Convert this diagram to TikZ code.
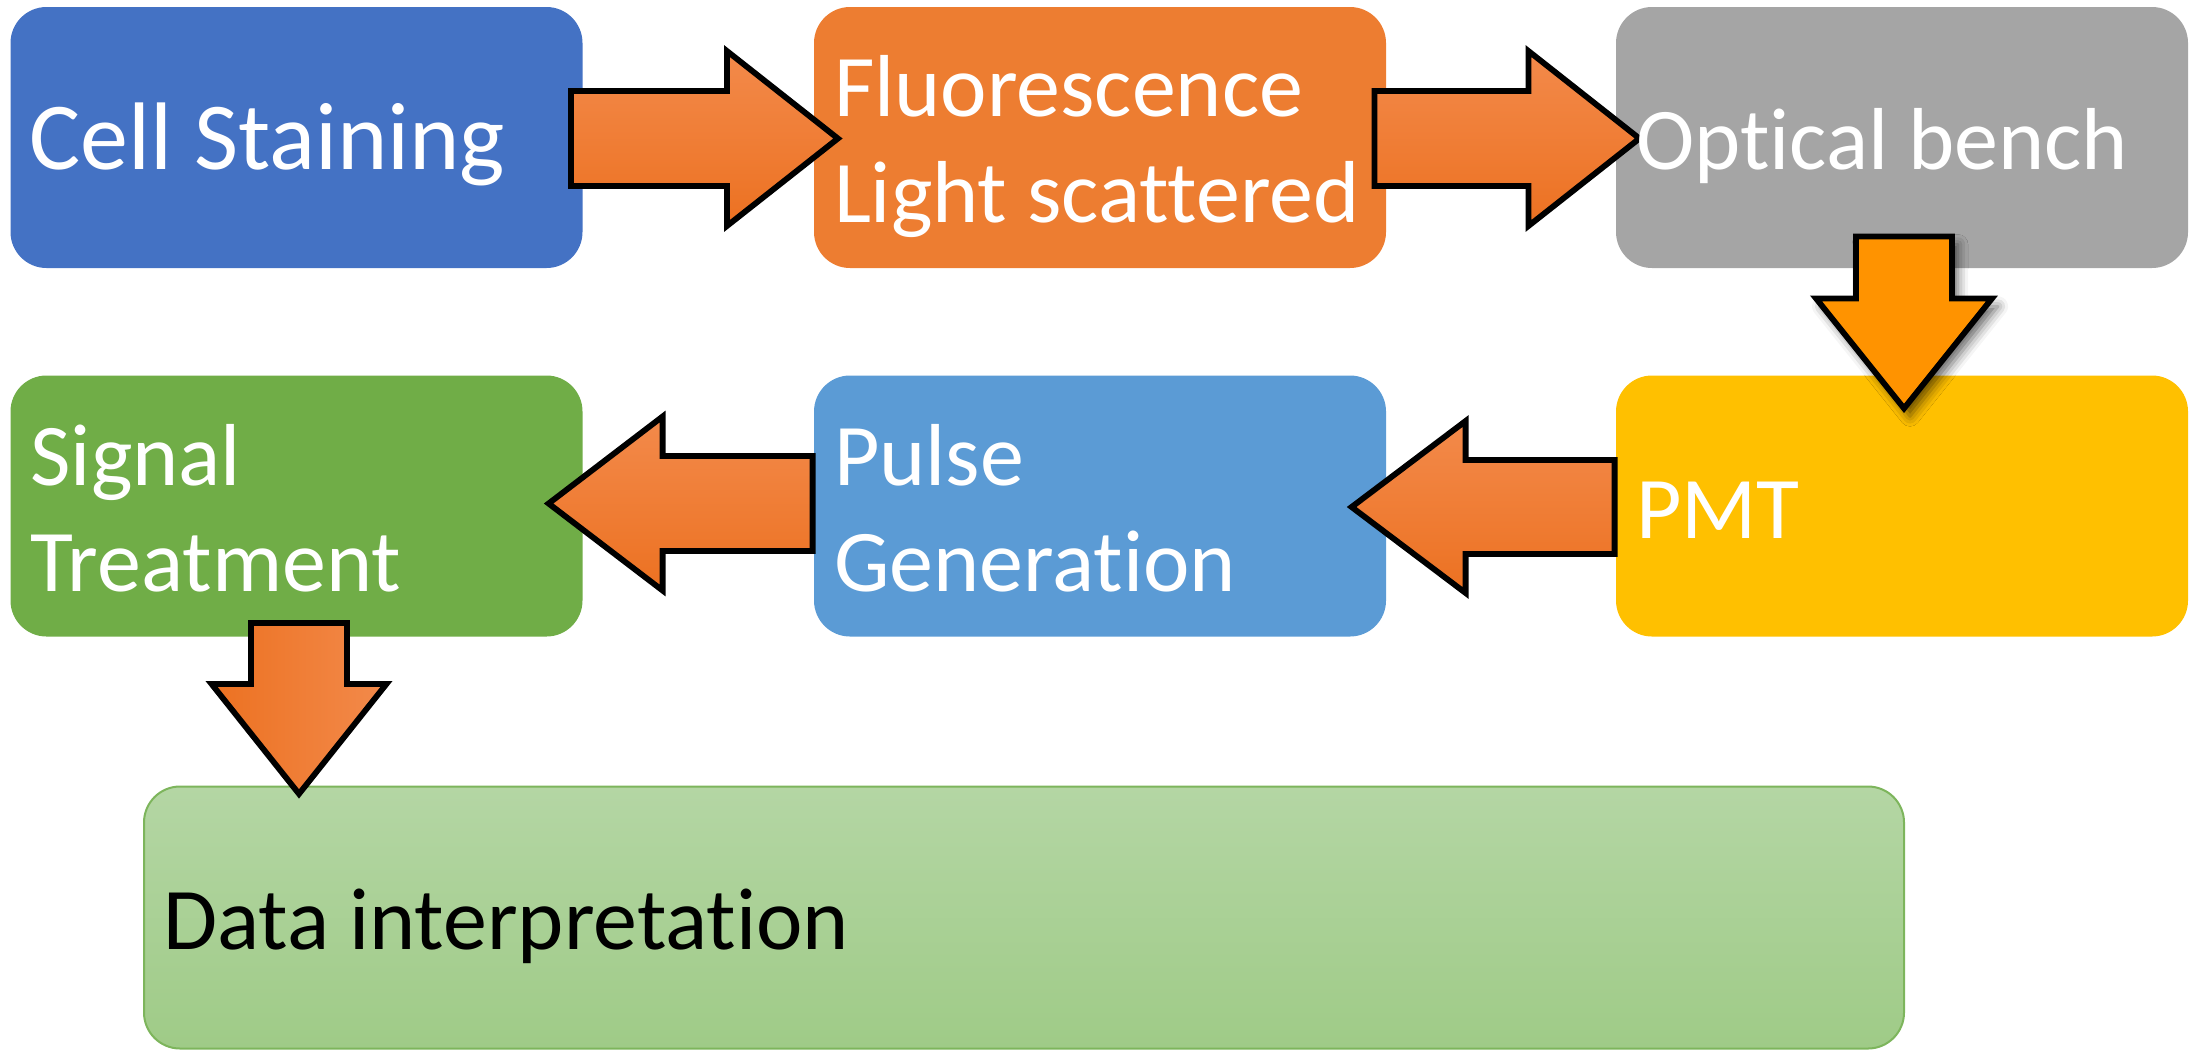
\documentclass[tikz,border=0pt]{standalone}
\usepackage{fontspec}
\setmainfont{Carlito}[Ligatures=NoCommon]
\usetikzlibrary{calc,shadows.blur}
\definecolor{cStain}{HTML}{4472C4}
\definecolor{cFluo}{HTML}{ED7D31}
\definecolor{cOpt}{HTML}{A5A5A5}
\definecolor{cSig}{HTML}{70AD47}
\definecolor{cPulse}{HTML}{5B9BD5}
\definecolor{cPMT}{HTML}{FFC000}
\definecolor{cDataTop}{HTML}{B4D6A4}
\definecolor{cDataBot}{HTML}{9FCB87}
\definecolor{cDataBorder}{HTML}{7DB55C}
\definecolor{arLight}{HTML}{F38A4B}
\definecolor{arMid}{HTML}{F47E2F}
\definecolor{arDark}{HTML}{EC7121}
\definecolor{arSolid}{HTML}{FF9300}
\newcommand\rpts[4]{(0,-#2) -- (#1-#4,-#2) -- (#1-#4,-#3) -- (#1,0) -- (#1-#4,#3) -- (#1-#4,#2) -- (0,#2) -- cycle}
\newcommand\lpts[4]{(0,-#2) -- (-#1+#4,-#2) -- (-#1+#4,-#3) -- (-#1,0) -- (-#1+#4,#3) -- (-#1+#4,#2) -- (0,#2) -- cycle}
\newcommand\dpts[4]{(-#2,0) -- (-#2,#1-#4) -- (-#3,#1-#4) -- (0,#1) -- (#3,#1-#4) -- (#2,#1-#4) -- (#2,0) -- cycle}
\begin{document}
\begin{tikzpicture}[x=0.5pt,y=-0.5pt,
  box/.style={rounded corners=18pt, minimum width=286pt, minimum height=130.5pt, inner sep=0pt, draw=none},
  lbl/.style={font=\fontsize{44}{53}\selectfont, text=white, inner sep=0pt, align=left, anchor=west},
  barrow/.style={draw=black, line width=2.9pt, line join=miter},
  hshade/.style={top color=arLight, middle color=arMid, bottom color=arDark},
  vshade/.style={left color=arDark, middle color=arMid, right color=arLight}]
\useasboundingbox (0,0) rectangle (2198,1051);
% boxes
\node[box, fill=cStain] (b1) at (296.5,137.5) {};
\node[box, fill=cFluo]  (b2) at (1100,137.5) {};
\node[box, fill=cOpt]   (b3) at (1902,137.5) {};
\node[box, fill=cSig]   (b4) at (296.5,506) {};
\node[box, fill=cPulse] (b5) at (1100,506) {};
\node[box, fill=cPMT]   (b6) at (1902,506) {};
\node[box, minimum width=880pt, minimum height=131pt, draw=cDataBorder, line width=1pt,
      top color=cDataTop, bottom color=cDataBot] (b7) at (1024,917.5) {};
% arrows
\coordinate (a1) at ($(b1.east)+(-12,1)$);
\coordinate (a2) at ($(b2.east)+(-12,1)$);
\coordinate (a3) at ($(b3.south)+(2,-32)$);
\coordinate (a4) at ($(b6.west)+(-1,1)$);
\coordinate (a5) at ($(b5.west)+(-1,-2.5)$);
\coordinate (a6) at ($(b4.south)+(2.5,-14)$);
\path[barrow, hshade, shift={(a1)}] \rpts{267}{47.5}{87.5}{111};
\path[barrow, hshade, shift={(a2)}] \rpts{265}{47.5}{87.5}{111};
\path[barrow, fill=arSolid, shift={(a3)},
      blur shadow={shadow xshift=3pt, shadow yshift=-4pt, shadow blur radius=5pt, shadow opacity=60}]
      \dpts{172}{48}{88}{110};
\path[barrow, hshade, shift={(a4)}] \lpts{263}{47}{86}{114};
\path[barrow, hshade, shift={(a5)}] \lpts{264}{47.5}{87}{114};
\path[barrow, vshade, shift={(a6)}] \dpts{171}{48}{87.5}{110};
% labels
\node[lbl, font=\fontsize{48}{53}\selectfont] (t1) at ($(b1.west)+(19,11)$) {\strut Cell Staining};
\node[lbl] (t2) at ($(b2.west)+(20,11)$) {\strut Fluorescence\\\strut Light scattered};
\node[lbl] (t3) at ($(b3.west)+(20,11)$) {\strut Optical bench};
\node[lbl] (t4) at ($(b4.west)+(20,11)$) {\strut Signal\\\strut Treatment};
\node[lbl] (t5) at ($(b5.west)+(20,11)$) {\strut Pulse\\\strut Generation};
\node[lbl] (t6) at ($(b6.west)+(20,11)$) {\strut PMT};
\node[lbl, text=black] (t7) at ($(b7.west)+(20,11)$) {\strut Data interpretation};
\end{tikzpicture}
\end{document}
